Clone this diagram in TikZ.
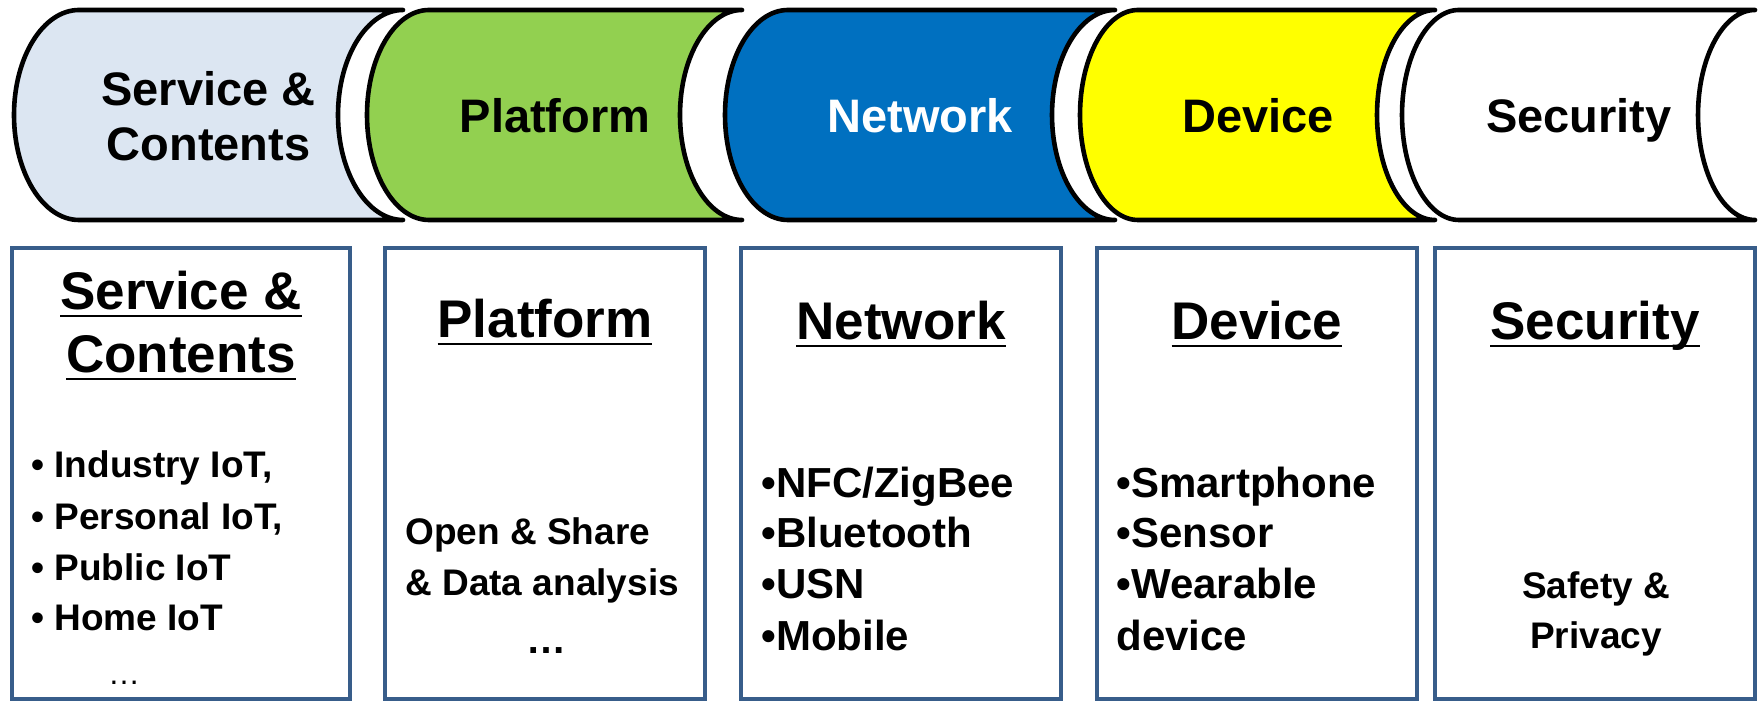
\documentclass[tikz,border=0pt]{standalone}
\usepackage{fontspec}
\setmainfont{Liberation Sans}

\definecolor{svcfill}{HTML}{DCE6F2}
\definecolor{platfill}{HTML}{92D050}
\definecolor{netfill}{HTML}{0070C0}
\definecolor{devfill}{HTML}{FFFF00}
\definecolor{panelblue}{HTML}{385D8A}

% underline at a fixed depth below the baseline
\newsavebox\ulbox
\newcommand\hul[1]{\sbox\ulbox{#1}\rlap{\rule[-3.6pt]{\wd\ulbox}{1.1pt}}\usebox\ulbox}

% horizontal drum: #1 leftmost x, #2 x of the end face centre, #3 end half-width, #4 fill
\newcommand\drum[4]{%
  \path[drumline, fill=#4]
    ({#1+#3},481) arc[start angle=270, end angle=90, x radius=#3, y radius=105]
    -- (#2,691) arc[start angle=90, end angle=270, x radius=#3, y radius=105]
    -- cycle;}

\tikzset{
  drumline/.style={draw=black, line width=2.3pt, line join=round, line cap=round},
  hdr/.style={font=\fontsize{23.5}{27}\selectfont\bfseries, inner sep=0pt, anchor=base},
  boxhead/.style={font=\fontsize{26.5}{31.5}\selectfont\bfseries, inner sep=0pt, anchor=base},
  itemsm/.style={font=\fontsize{18.5}{22}\selectfont\bfseries, inner sep=0pt, anchor=base west},
  itemlg/.style={font=\fontsize{21}{25}\selectfont\bfseries, inner sep=0pt, anchor=base west},
  panel/.style={draw=panelblue, line width=2.1pt},
}

\begin{document}
\begin{tikzpicture}[x=0.5pt, y=0.5pt]
\useasboundingbox (0,0) rectangle (1764,701);

% ---- top row of drums, each one overlapping the end of the previous ----
\drum{14}{403}{65}{svcfill}
\drum{367}{742}{62}{platfill}
\drum{725}{1115}{63}{netfill}
\drum{1080}{1435}{58}{devfill}
\drum{1402}{1755}{57}{white}

\node[hdr] (hSvcA) at (208.5,595) {Service \&};
\node[hdr] (hSvcB) at (208.5,540) {Contents};
\node[hdr] (hPlat) at (555,568) {Platform};
\node[hdr, text=white] (hNet) at (920,568) {Network};
\node[hdr] (hDev) at (1258,568) {Device};
\node[hdr] (hSec) at (1579,568) {Security};

% ---- bottom row of panels ----
\draw[panel] (12,2) rectangle (350,453);
\draw[panel] (385,2) rectangle (705,453);
\draw[panel] (741,2) rectangle (1061,453);
\draw[panel] (1097,2) rectangle (1417,453);
\draw[panel] (1435,2) rectangle (1755,453);

% Service & Contents
\node[boxhead] (pSvcA) at (181,391) {\hul{Service \&}};
\node[boxhead] (pSvcB) at (181,328) {\hul{Contents}};
\node[itemsm] (s1) at (31,223) {• Industry IoT,};
\node[itemsm] (s2) at (31,171) {• Personal IoT,};
\node[itemsm] (s3) at (31,120) {• Public IoT};
\node[itemsm] (s4) at (31,71) {• Home IoT};
\node[font=\fontsize{16}{18}\selectfont, inner sep=0pt, anchor=base] (s5) at (124,17) {…};

% Platform
\node[boxhead] (pPlat) at (545,363) {\hul{Platform}};
\node[itemsm] (p1) at (405,156) {Open \& Share};
\node[itemsm] (p2) at (405,106) {\& Data analysis};
\node[font=\fontsize{20}{24}\selectfont\bfseries, inner sep=0pt, anchor=base] (p3) at (546,48) {…};

% Network
\node[boxhead] (pNet) at (901,361) {\hul{Network}};
\node[itemlg] (n1) at (761,203) {•NFC/ZigBee};
\node[itemlg] (n2) at (761,154) {•Bluetooth};
\node[itemlg] (n3) at (761,103) {•USN};
\node[itemlg] (n4) at (761,51) {•Mobile};

% Device
\node[boxhead] (pDev) at (1257,361) {\hul{Device}};
\node[itemlg] (d1) at (1116,203) {•Smartphone};
\node[itemlg] (d2) at (1116,154) {•Sensor};
\node[itemlg] (d3) at (1116,103) {•Wearable};
\node[itemlg] (d4) at (1116,51) {device};

% Security
\node[boxhead] (pSec) at (1595,361) {\hul{Security}};
\node[font=\fontsize{18.5}{22}\selectfont\bfseries, inner sep=0pt, anchor=base] (c1) at (1596,103) {Safety \&};
\node[font=\fontsize{18.5}{22}\selectfont\bfseries, inner sep=0pt, anchor=base] (c2) at (1596,53) {Privacy};
\end{tikzpicture}
\end{document}
